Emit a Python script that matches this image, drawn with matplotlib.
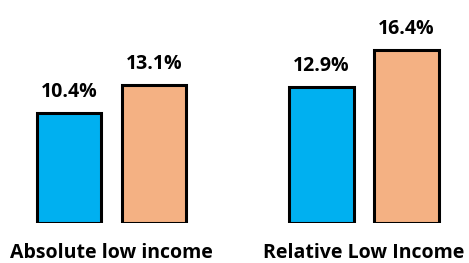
import matplotlib
matplotlib.use('Agg')
import matplotlib.pyplot as plt
import numpy as np

plt.rcParams['font.family'] = ['Open Sans', 'DejaVu Sans']

categories = ['Absolute low income', 'Relative Low Income']
series_a = [10.4, 12.9]
series_b = [13.1, 16.4]
labels_a = ['10.4%', '12.9%']
labels_b = ['13.1%', '16.4%']

colour_a = '#00B0F0'
colour_b = '#F4B183'

fig = plt.figure(figsize=(4.69, 2.63), dpi=100)
ax = fig.add_axes([0, 40 / 263, 1, 223 / 263])

x = np.arange(len(categories))
width = 0.255
offset = 0.169

bars_a = ax.bar(x - offset, series_a, width, color=colour_a, edgecolor='black', linewidth=2.2)
bars_b = ax.bar(x + offset, series_b, width, color=colour_b, edgecolor='black', linewidth=2.2)

for bars, labels in [(bars_a, labels_a), (bars_b, labels_b)]:
    for bar, lab in zip(bars, labels):
        ax.annotate(lab, (bar.get_x() + bar.get_width() / 2, bar.get_height()),
                    xytext=(0, 11.5), textcoords='offset points',
                    ha='center', va='baseline', fontsize=14, fontweight='bold')

for xi, cat in zip(x, categories):
    ax.annotate(cat, (xi, 0), xytext=(0, -25), textcoords='offset points',
                ha='center', va='baseline', fontsize=14, fontweight='bold')

ax.set_xlim(-0.4416, 1.4158)
ax.set_ylim(0, 21.1)
ax.axis('off')

fig.savefig('out.png', dpi=100)
